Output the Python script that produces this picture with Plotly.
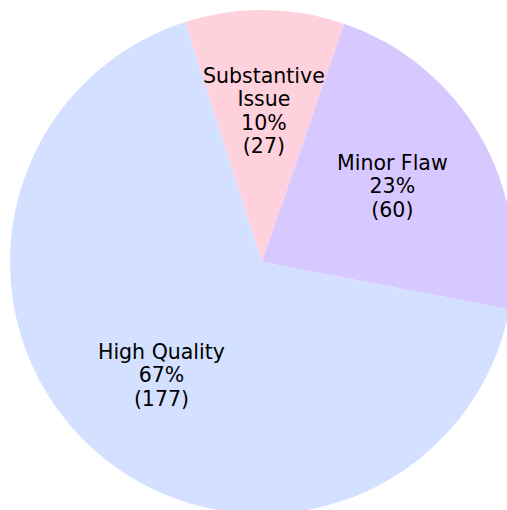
import math
import plotly.graph_objects as go

labels = ["Substantive Issue", "Minor Flaw", "High Quality"]
label_lines = ["Substantive<br>Issue", "Minor Flaw", "High Quality"]
counts = [27, 60, 177]
colors = ["#FFD1DC", "#D7C9FF", "#D3E0FF"]

W, H = 514, 514
ML, MT, MR, MB = 10, 10, 0, 0
start_deg = -17.8  # clockwise from 12 o'clock
pct_dist = 0.6

fig = go.Figure(go.Pie(
    labels=labels, values=counts, sort=False, direction="clockwise",
    rotation=start_deg, marker=dict(colors=colors, line=dict(width=0)),
    textinfo="none", hoverinfo="label+percent+value", showlegend=False,
    domain=dict(x=[0, 1], y=[0, 1]),
))

pw, ph = W - ML - MR, H - MT - MB
R = min(pw, ph) / 2
total = sum(counts)
acc = 0
for lab, c in zip(label_lines, counts):
    mid = start_deg + (acc + c / 2) / total * 360
    acc += c
    th = math.radians(mid)
    x = 0.5 + pct_dist * R * math.sin(th) / pw
    y = 0.5 + pct_dist * R * math.cos(th) / ph
    pct = round(100 * c / total)
    lines = lab.split("<br>") + [f"{pct}%", f"({c})"]
    txt = "<br>".join(f"<span style='font-size:20.5px'>{l}</span>" for l in lines)
    fig.add_annotation(x=x, y=y, xref="paper", yref="paper", text=txt,
                       showarrow=False, xanchor="center", yanchor="middle",
                       align="center", font=dict(family="DejaVu Sans", size=18, color="#000000"))

fig.update_layout(width=W, height=H, margin=dict(l=ML, t=MT, r=MR, b=MB),
                  paper_bgcolor="white", plot_bgcolor="white")
fig.write_html("out.html", config={"displayModeBar": False},
               post_script="document.body.style.margin='0';document.body.style.overflow='hidden';")
